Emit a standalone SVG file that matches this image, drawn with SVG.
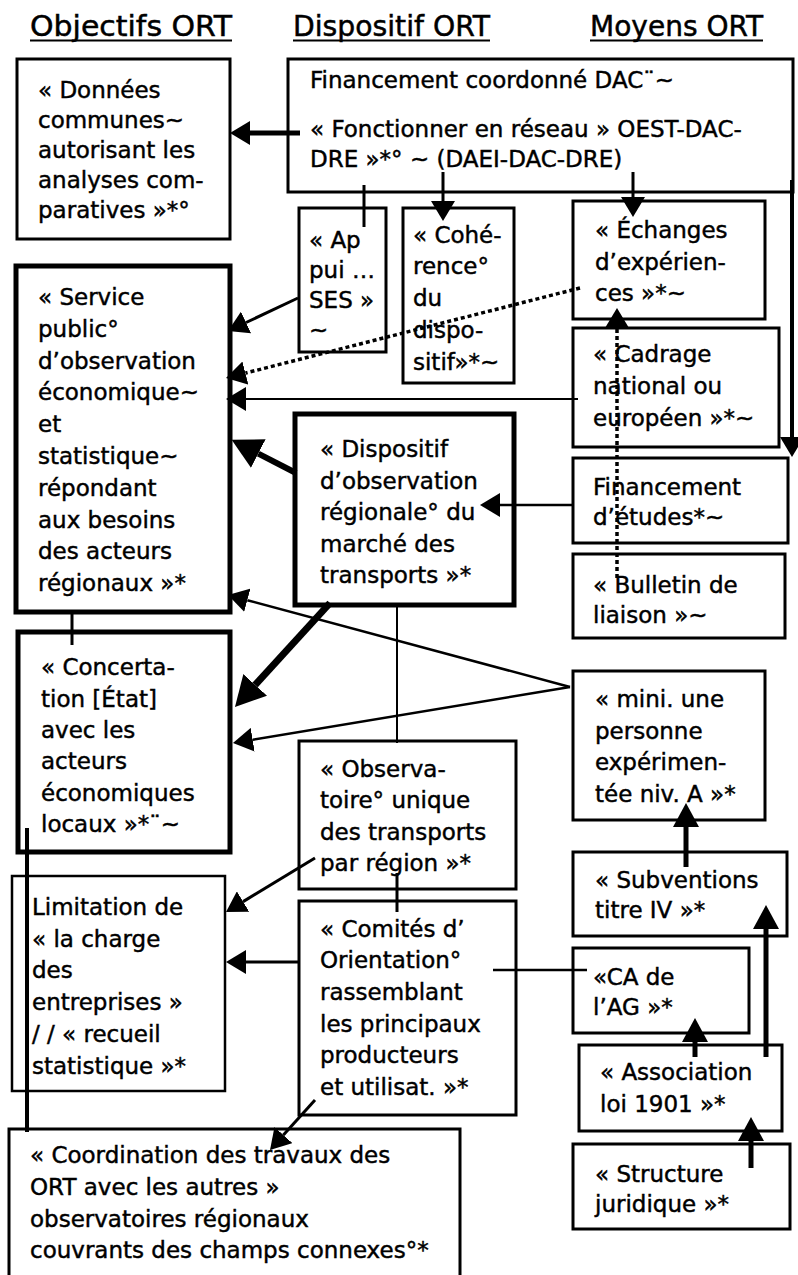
<svg xmlns="http://www.w3.org/2000/svg" width="798" height="1275" viewBox="0 0 798 1275">
  <style>
    .box{fill:#fff;stroke:#000;stroke-width:3}
    .thick{stroke-width:5}
    .thin{stroke-width:2.5}
    .t{font-family:"DejaVu Sans",Verdana,sans-serif;font-size:23px;fill:#000;stroke:#000;stroke-width:0.45}
    .h{font-family:"DejaVu Sans",Verdana,sans-serif;font-size:29px;fill:#000;stroke:#000;stroke-width:0.5}
    .ul{stroke:#000;stroke-width:2}
    .c{fill:none;stroke:#000}
    .dot{stroke-dasharray:4 3}
    .head{fill:#000;stroke:none}
  </style>
  <defs>
    <marker id="ah" markerUnits="userSpaceOnUse" markerWidth="20" markerHeight="24" refX="0" refY="12" orient="auto">
      <path class="head" d="M0,0 L20,12 L0,24 z"/>
    </marker>
    <marker id="ahV" markerUnits="userSpaceOnUse" markerWidth="24" markerHeight="26" refX="0" refY="13" orient="auto">
      <path class="head" d="M0,0 L24,13 L0,26 z"/>
    </marker>
    <marker id="ahL" markerUnits="userSpaceOnUse" markerWidth="30" markerHeight="32" refX="0" refY="16" orient="auto">
      <path class="head" d="M0,0 L30,16 L0,32 z"/>
    </marker>
  </defs>
  <rect width="798" height="1275" fill="#fff"/>

  <!-- column headings -->
  <g id="headings">
    <text class="h" x="30" y="36" textLength="202" lengthAdjust="spacingAndGlyphs">Objectifs ORT</text>
    <line class="ul" x1="30" y1="40.5" x2="232" y2="40.5"/>
    <text class="h" x="293" y="36" textLength="197" lengthAdjust="spacingAndGlyphs">Dispositif ORT</text>
    <line class="ul" x1="293" y1="40.5" x2="490" y2="40.5"/>
    <text class="h" x="590" y="36" textLength="173" lengthAdjust="spacingAndGlyphs">Moyens ORT</text>
    <line class="ul" x1="590" y1="40.5" x2="763" y2="40.5"/>
  </g>

  <!-- left column: objectives -->
  <g id="donnees">
    <rect class="box" x="17" y="59" width="213" height="180"/>
    <text class="t"><tspan x="38" y="98">« Données</tspan><tspan x="38" y="128">communes~</tspan><tspan x="38" y="158">autorisant les</tspan><tspan x="38" y="188">analyses com-</tspan><tspan x="38" y="218">paratives »*°</tspan></text>
  </g>
  <g id="service-public">
    <rect class="box thick" x="16" y="266" width="214" height="346"/>
    <text class="t"><tspan x="38" y="305">« Service</tspan><tspan x="38" y="337">public°</tspan><tspan x="38" y="369">d’observation</tspan><tspan x="38" y="400">économique~</tspan><tspan x="38" y="432">et</tspan><tspan x="38" y="464">statistique~</tspan><tspan x="38" y="496">répondant</tspan><tspan x="38" y="528">aux besoins</tspan><tspan x="38" y="559">des acteurs</tspan><tspan x="38" y="591">régionaux »*</tspan></text>
  </g>
  <g id="concertation">
    <rect class="box thick" x="18" y="632" width="212" height="220"/>
    <text class="t"><tspan x="41" y="675">« Concerta-</tspan><tspan x="41" y="707">tion [État]</tspan><tspan x="41" y="738">avec les</tspan><tspan x="41" y="769">acteurs</tspan><tspan x="41" y="801">économiques</tspan><tspan x="41" y="832">locaux »*¨~</tspan></text>
  </g>
  <g id="limitation">
    <rect class="box thin" x="12" y="876" width="213" height="215"/>
    <text class="t"><tspan x="32" y="915">Limitation de</tspan><tspan x="32" y="947">« la charge</tspan><tspan x="32" y="978">des</tspan><tspan x="32" y="1010">entreprises »</tspan><tspan x="32" y="1042">/ / « recueil</tspan><tspan x="32" y="1074">statistique »*</tspan></text>
  </g>
  <g id="coordination">
    <rect class="box" x="9" y="1129" width="451" height="160"/>
    <text class="t"><tspan x="30" y="1163">« Coordination des travaux des</tspan><tspan x="30" y="1195">ORT avec les autres »</tspan><tspan x="30" y="1227">observatoires régionaux</tspan><tspan x="30" y="1258">couvrants des champs connexes°*</tspan></text>
  </g>

  <!-- middle column: set-up -->
  <g id="financement-coordonne">
    <rect class="box" x="288" y="59" width="505" height="133"/>
    <text class="t"><tspan x="310" y="88">Financement coordonné DAC¨~</tspan><tspan x="310" y="137">« Fonctionner en réseau » OEST-DAC-</tspan><tspan x="310" y="167">DRE »*° ~ (DAEI-DAC-DRE)</tspan></text>
  </g>
  <g id="appui-ses">
    <rect class="box" x="299" y="208" width="87" height="144"/>
    <text class="t"><tspan x="309" y="248">« Ap</tspan><tspan x="309" y="278">pui …</tspan><tspan x="309" y="308">SES »</tspan><tspan x="309" y="338">~</tspan></text>
  </g>
  <g id="coherence">
    <rect class="box" x="403" y="208" width="111" height="175"/>
    <text class="t"><tspan x="413" y="243">« Cohé-</tspan><tspan x="413" y="274">rence°</tspan><tspan x="413" y="306">du</tspan><tspan x="413" y="338">dispo-</tspan><tspan x="413" y="370">sitif»*~</tspan></text>
  </g>
  <g id="dispositif-regional">
    <rect class="box thick" x="295" y="414" width="219" height="191"/>
    <text class="t"><tspan x="320" y="457">« Dispositif</tspan><tspan x="320" y="489">d’observation</tspan><tspan x="320" y="520">régionale° du</tspan><tspan x="320" y="552">marché des</tspan><tspan x="320" y="583">transports »*</tspan></text>
  </g>
  <g id="observatoire">
    <rect class="box" x="299" y="741" width="217" height="148"/>
    <text class="t"><tspan x="320" y="777">« Observa-</tspan><tspan x="320" y="808">toire° unique</tspan><tspan x="320" y="840">des transports</tspan><tspan x="320" y="871">par région »*</tspan></text>
  </g>
  <g id="comites">
    <rect class="box" x="299" y="901" width="217" height="214"/>
    <text class="t"><tspan x="320" y="937">« Comités d’</tspan><tspan x="320" y="968">Orientation°</tspan><tspan x="320" y="1000">rassemblant</tspan><tspan x="320" y="1032">les principaux</tspan><tspan x="320" y="1063">producteurs</tspan><tspan x="320" y="1095">et utilisat. »*</tspan></text>
  </g>

  <!-- right column: means -->
  <g id="echanges">
    <rect class="box" x="573" y="201" width="192" height="118"/>
    <text class="t"><tspan x="595" y="238">« Échanges</tspan><tspan x="595" y="270">d’expérien-</tspan><tspan x="595" y="301">ces »*~</tspan></text>
  </g>
  <g id="cadrage">
    <rect class="box" x="573" y="328" width="206" height="119"/>
    <text class="t"><tspan x="593" y="362">« Cadrage</tspan><tspan x="593" y="394">national ou</tspan><tspan x="593" y="426">européen »*~</tspan></text>
  </g>
  <g id="financement-etudes">
    <rect class="box" x="573" y="458" width="215" height="85"/>
    <text class="t"><tspan x="593" y="495">Financement</tspan><tspan x="593" y="525">d’études*~</tspan></text>
  </g>
  <g id="bulletin">
    <rect class="box" x="573" y="554" width="212" height="84"/>
    <text class="t"><tspan x="593" y="593">« Bulletin de</tspan><tspan x="593" y="623">liaison »~</tspan></text>
  </g>
  <g id="personne">
    <rect class="box" x="573" y="671" width="192" height="149"/>
    <text class="t"><tspan x="595" y="707">« mini. une</tspan><tspan x="595" y="739">personne</tspan><tspan x="595" y="770">expérimen-</tspan><tspan x="595" y="802">tée niv. A »*</tspan></text>
  </g>
  <g id="subventions">
    <rect class="box" x="573" y="852" width="214" height="84"/>
    <text class="t"><tspan x="595" y="888">« Subventions</tspan><tspan x="595" y="918">titre IV »*</tspan></text>
  </g>
  <g id="ca-ag">
    <rect class="box" x="573" y="948" width="176" height="85"/>
    <text class="t"><tspan x="593" y="985">«CA de</tspan><tspan x="593" y="1015">l’AG »*</tspan></text>
  </g>
  <g id="association">
    <rect class="box" x="579" y="1045" width="203" height="86"/>
    <text class="t"><tspan x="600" y="1080">« Association</tspan><tspan x="600" y="1112">loi 1901 »*</tspan></text>
  </g>
  <g id="structure">
    <rect class="box" x="573" y="1144" width="217" height="85"/>
    <text class="t"><tspan x="595" y="1182">« Structure</tspan><tspan x="595" y="1212">juridique »*</tspan></text>
  </g>

  <!-- connectors -->
  <g id="connectors">
    <path class="c" stroke-width="5" d="M300,133 L250,133" marker-end="url(#ah)"/>
    <path class="c" stroke-width="3" d="M364,185 L364,227"/>
    <path class="c" stroke-width="3" d="M443,172 L443,201" marker-end="url(#ah)"/>
    <path class="c" stroke-width="3" d="M633,172 L633,197" marker-end="url(#ah)"/>
    <path class="c" stroke-width="4" d="M792,180 L792,437" marker-end="url(#ah)"/>
    <path class="c" stroke-width="3" d="M298,298 L246.1,322.5" marker-end="url(#ah)"/>
    <path class="c dot" stroke-width="3.5" d="M580,288 L245.4,373.1" marker-end="url(#ah)"/>
    <path class="c" stroke-width="2" d="M578,399 L246,399" marker-end="url(#ah)"/>
    <path class="c" stroke-width="6" d="M296,473 L258.3,453.6" marker-end="url(#ahL)"/>
    <path class="c" stroke-width="2.5" d="M573,505 L500,505" marker-end="url(#ah)"/>
    <path class="c dot" stroke-width="3.5" d="M617,578 L617,328" marker-end="url(#ah)"/>
    <path class="c" stroke-width="3" d="M72,612 L72,645"/>
    <path class="c" stroke-width="7" d="M330,603 L255.2,684.9" marker-end="url(#ahL)"/>
    <path class="c" stroke-width="2.5" d="M570,687 L247.3,600.2" marker-end="url(#ah)"/>
    <path class="c" stroke-width="2.5" d="M570,687 L252.7,739.7" marker-end="url(#ah)"/>
    <path class="c" stroke-width="2" d="M397,605 L397,743"/>
    <path class="c" stroke-width="3" d="M315,858 L243.1,901.6" marker-end="url(#ah)"/>
    <path class="c" stroke-width="3" d="M397,873 L397,912"/>
    <path class="c" stroke-width="3" d="M299,962 L246,962" marker-end="url(#ah)"/>
    <path class="c" stroke-width="2.5" d="M493,970 L587,970"/>
    <path class="c" stroke-width="3" d="M315,1100 L283.4,1135.1" marker-end="url(#ah)"/>
    <path class="c" stroke-width="4" d="M27,828 L27,1132"/>
    <path class="c" stroke-width="5" d="M686,867 L686,827" marker-end="url(#ahV)"/>
    <path class="c" stroke-width="5" d="M695,1057 L695,1042" marker-end="url(#ahV)"/>
    <path class="c" stroke-width="5" d="M766,1057 L766,929" marker-end="url(#ahV)"/>
    <path class="c" stroke-width="5" d="M751,1168 L751,1141" marker-end="url(#ahV)"/>
  </g>
</svg>
